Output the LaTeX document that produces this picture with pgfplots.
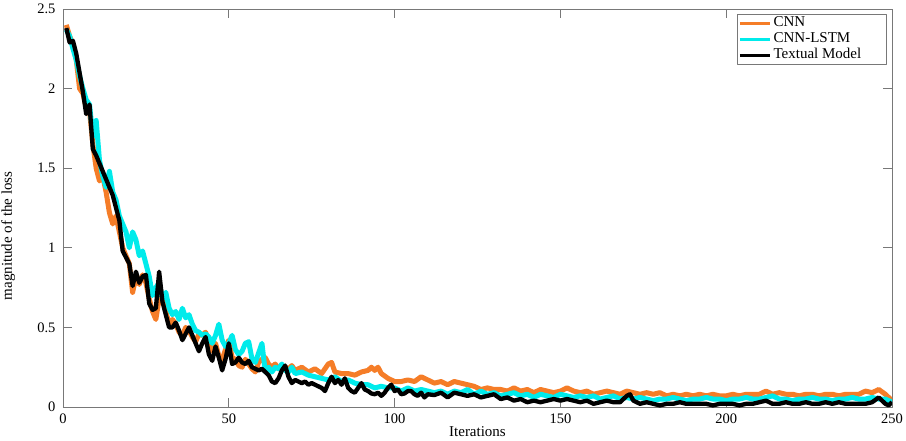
\documentclass[border=0pt]{standalone}
\usepackage{pgfplots}
\pgfplotsset{compat=1.18}
\usepackage{fontspec}
\setmainfont{Liberation Serif}
\definecolor{cnnorange}{RGB}{245,125,40}
\definecolor{lstmcyan}{RGB}{0,235,235}
\definecolor{axgray}{RGB}{120,120,120}
\begin{document}
\begin{tikzpicture}
\begin{axis}[
  scale only axis,
  width=829pt, height=398pt,
  xmin=0, xmax=250, ymin=0, ymax=2.5,
  xtick={0,50,100,150,200,250},
  ytick={0,0.5,1,1.5,2,2.5},
  yticklabels={0,0.5,1,1.5,2,2.5},
  tick align=inside,
  major tick length=9pt,
  axis line style={axgray, line width=0.8pt},
  tick style={axgray, line width=0.8pt},
  /pgf/number format/assume math mode=true,
  ticklabel style={font=\fontsize{14.5}{16}\selectfont},
  xticklabel style={yshift=-3pt},
  yticklabel style={xshift=-4pt},
  xlabel={Iterations},
  ylabel={magnitude of the loss},
  label style={font=\fontsize{15}{17}\selectfont},
  xlabel style={at={(axis description cs:0.5,-0.063)}, anchor=center},
  ylabel style={at={(axis description cs:-0.066,0.43)}, anchor=center},
  legend style={at={(rel axis cs:1,1)}, anchor=north east, xshift=-5pt, yshift=-5pt,
    draw=axgray, line width=0.8pt, inner xsep=1pt, inner ysep=1pt,
    font=\fontsize{15}{17}\selectfont,
    nodes={inner ysep=0.5pt, text height=11pt, text depth=4pt}},
  legend cell align=left,
  legend image code/.code={\draw[#1, line width=3.5pt] (0pt,0pt) -- (30pt,0pt);},
  line join=round,
]
\addplot[cnnorange, line width=5pt] coordinates {
(1,2.40)(2,2.33)(3,2.28)(4,2.18)(5,2.00)(6,1.97)(7,1.88)(8,1.86)(9,1.65)(10,1.50)
(11,1.42)(12,1.45)(13,1.35)(14,1.22)(15,1.15)(16,1.20)(17,1.10)(18,1.00)(19,0.95)(20,0.90)
(21,0.72)(22,0.82)(23,0.77)(24,0.83)(25,0.78)(26,0.68)(27,0.60)(28,0.55)(29,0.68)(30,0.72)
(31,0.60)(32,0.52)(33,0.55)(34,0.52)(35,0.47)(36,0.45)(37,0.50)(38,0.48)(39,0.44)(40,0.41)
(41,0.46)(42,0.45)(43,0.47)(44,0.40)(45,0.35)(46,0.40)(47,0.32)(48,0.30)(49,0.36)(50,0.42)
(51,0.31)(52,0.30)(53,0.26)(54,0.25)(55,0.30)(56,0.27)(57,0.24)(58,0.22)(59,0.28)(60,0.30)
(61,0.31)(62,0.27)(63,0.25)(64,0.27)(65,0.24)(66,0.26)(67,0.25)(68,0.24)(69,0.26)(70,0.23)
(72,0.25)(74,0.22)(76,0.24)(78,0.21)(80,0.27)(81,0.28)(82,0.22)(84,0.21)(86,0.21)(88,0.20)
(90,0.22)(92,0.23)(93,0.25)(94,0.23)(95,0.25)(96,0.21)(98,0.18)(100,0.16)(102,0.16)(104,0.17)
(106,0.16)(108,0.19)(110,0.17)(112,0.15)(114,0.16)(116,0.14)(118,0.16)(120,0.15)(122,0.14)(124,0.13)
(126,0.11)(128,0.12)(130,0.11)(132,0.11)(134,0.10)(136,0.12)(138,0.10)(140,0.11)(142,0.09)(144,0.11)
(146,0.10)(148,0.09)(150,0.10)(152,0.12)(154,0.10)(156,0.09)(158,0.10)(160,0.08)(162,0.09)(164,0.10)
(166,0.09)(168,0.08)(170,0.10)(172,0.09)(174,0.08)(176,0.09)(178,0.08)(180,0.09)(182,0.07)(184,0.08)
(186,0.07)(188,0.08)(190,0.07)(192,0.08)(194,0.07)(196,0.08)(198,0.07)(200,0.07)(202,0.08)(204,0.07)
(206,0.08)(208,0.08)(210,0.08)(212,0.10)(214,0.08)(216,0.09)(218,0.08)(220,0.08)(222,0.07)(224,0.08)
(226,0.08)(228,0.07)(230,0.08)(232,0.08)(234,0.07)(236,0.08)(238,0.08)(240,0.08)(242,0.10)(244,0.09)
(246,0.11)(248,0.08)(250,0.04)
};
\addlegendentry{\makebox[110pt][l]{CNN}}
\addplot[lstmcyan, line width=5pt] coordinates {
(1,2.37)(2,2.33)(3,2.25)(4,2.18)(5,2.08)(6,2.00)(7,1.93)(8,1.90)(9,1.70)(10,1.80)
(11,1.55)(12,1.45)(13,1.38)(14,1.48)(15,1.35)(16,1.30)(17,1.20)(18,1.15)(19,1.10)(20,1.00)
(21,1.10)(22,1.05)(23,0.95)(24,0.98)(25,0.90)(26,0.82)(27,0.70)(28,0.75)(29,0.78)(30,0.68)
(31,0.72)(32,0.62)(33,0.58)(34,0.60)(35,0.55)(36,0.62)(37,0.56)(38,0.58)(39,0.52)(40,0.48)
(41,0.47)(42,0.45)(43,0.46)(44,0.44)(45,0.40)(46,0.45)(47,0.52)(48,0.42)(49,0.38)(50,0.40)
(51,0.45)(52,0.36)(53,0.33)(54,0.35)(55,0.40)(56,0.41)(57,0.30)(58,0.28)(59,0.34)(60,0.40)
(61,0.22)(62,0.25)(63,0.22)(64,0.25)(65,0.24)(66,0.27)(67,0.23)(68,0.22)(69,0.25)(70,0.21)
(72,0.22)(74,0.20)(76,0.19)(78,0.18)(80,0.17)(82,0.19)(84,0.16)(86,0.17)(88,0.15)(90,0.14)
(92,0.14)(94,0.12)(96,0.13)(98,0.12)(100,0.12)(102,0.10)(104,0.12)(106,0.10)(108,0.11)(110,0.10)
(112,0.09)(114,0.10)(116,0.08)(118,0.10)(120,0.09)(122,0.11)(124,0.08)(126,0.10)(128,0.08)(130,0.09)
(132,0.07)(134,0.08)(136,0.09)(138,0.07)(140,0.08)(142,0.06)(144,0.08)(146,0.07)(148,0.06)(150,0.08)
(152,0.07)(154,0.06)(156,0.07)(158,0.06)(160,0.07)(162,0.05)(164,0.06)(166,0.07)(168,0.05)(170,0.06)
(172,0.05)(174,0.06)(176,0.05)(178,0.04)(180,0.05)(182,0.05)(184,0.06)(186,0.05)(188,0.04)(190,0.05)
(192,0.05)(194,0.06)(196,0.05)(198,0.05)(200,0.04)(202,0.05)(204,0.05)(206,0.06)(208,0.05)(210,0.05)
(212,0.06)(214,0.07)(216,0.05)(218,0.05)(220,0.04)(222,0.05)(224,0.05)(226,0.06)(228,0.05)(230,0.05)
(232,0.04)(234,0.05)(236,0.05)(238,0.06)(240,0.05)(242,0.05)(244,0.06)(246,0.05)(248,0.05)(250,0.03)
};
\addlegendentry{\makebox[110pt][l]{CNN-LSTM}}
\addplot[black, line width=4.3pt] coordinates {
(1,2.38)(2,2.29)(3,2.30)(4,2.22)(5,2.10)(6,1.98)(7,1.84)(8,1.90)(9,1.62)(10,1.58)
(11,1.53)(12,1.48)(13,1.43)(14,1.38)(15,1.33)(16,1.25)(17,1.17)(18,0.98)(19,0.94)(20,0.90)
(21,0.76)(22,0.85)(23,0.78)(24,0.82)(25,0.83)(26,0.65)(27,0.61)(28,0.62)(29,0.85)(30,0.66)
(31,0.58)(32,0.50)(33,0.50)(34,0.53)(35,0.48)(36,0.42)(37,0.46)(38,0.50)(39,0.45)(40,0.40)
(41,0.35)(42,0.40)(43,0.44)(44,0.33)(45,0.29)(46,0.38)(47,0.31)(48,0.23)(49,0.30)(50,0.40)
(51,0.27)(52,0.28)(53,0.31)(54,0.28)(55,0.27)(56,0.29)(57,0.25)(58,0.24)(59,0.23)(60,0.24)
(61,0.22)(62,0.20)(63,0.16)(64,0.15)(65,0.18)(66,0.23)(67,0.26)(68,0.19)(69,0.15)(70,0.17)
(71,0.16)(72,0.15)(73,0.16)(74,0.14)(75,0.15)(76,0.14)(77,0.13)(78,0.12)(79,0.10)(80,0.15)
(81,0.19)(82,0.15)(83,0.17)(84,0.14)(85,0.18)(86,0.12)(87,0.10)(88,0.09)(89,0.12)(90,0.15)
(91,0.11)(92,0.10)(93,0.085)(94,0.08)(95,0.09)(96,0.07)(97,0.09)(98,0.12)(99,0.14)(100,0.10)
(101,0.11)(102,0.08)(103,0.085)(104,0.10)(105,0.10)(106,0.08)(107,0.07)(108,0.09)(109,0.06)(110,0.08)
(112,0.075)(114,0.09)(116,0.06)(118,0.09)(120,0.08)(122,0.07)(124,0.08)(126,0.06)(128,0.07)(130,0.08)
(132,0.05)(134,0.06)(136,0.04)(138,0.05)(140,0.03)(142,0.04)(144,0.03)(146,0.04)(148,0.05)(150,0.04)
(152,0.05)(154,0.04)(156,0.03)(158,0.04)(160,0.02)(162,0.03)(164,0.04)(166,0.03)(168,0.03)(170,0.07)
(171,0.08)(172,0.04)(174,0.02)(176,0.03)(178,0.02)(180,0.01)(182,0.02)(184,0.02)(186,0.03)(188,0.02)
(190,0.02)(192,0.02)(194,0.02)(196,0.01)(198,0.02)(200,0.02)(202,0.02)(204,0.01)(206,0.02)(208,0.02)
(210,0.03)(212,0.04)(214,0.02)(216,0.02)(218,0.03)(220,0.02)(222,0.02)(224,0.03)(226,0.02)(228,0.02)
(230,0.03)(232,0.02)(234,0.03)(236,0.02)(238,0.02)(240,0.02)(242,0.02)(244,0.03)(246,0.06)(248,0.02)
(249,0.01)(250,0.03)
};
\addlegendentry{\makebox[110pt][l]{Textual Model}}
\end{axis}
\pgfresetboundingbox
\path (current axis.south west) ++(-63pt,-33pt) rectangle ++(906pt,440pt);
\end{tikzpicture}
\end{document}
